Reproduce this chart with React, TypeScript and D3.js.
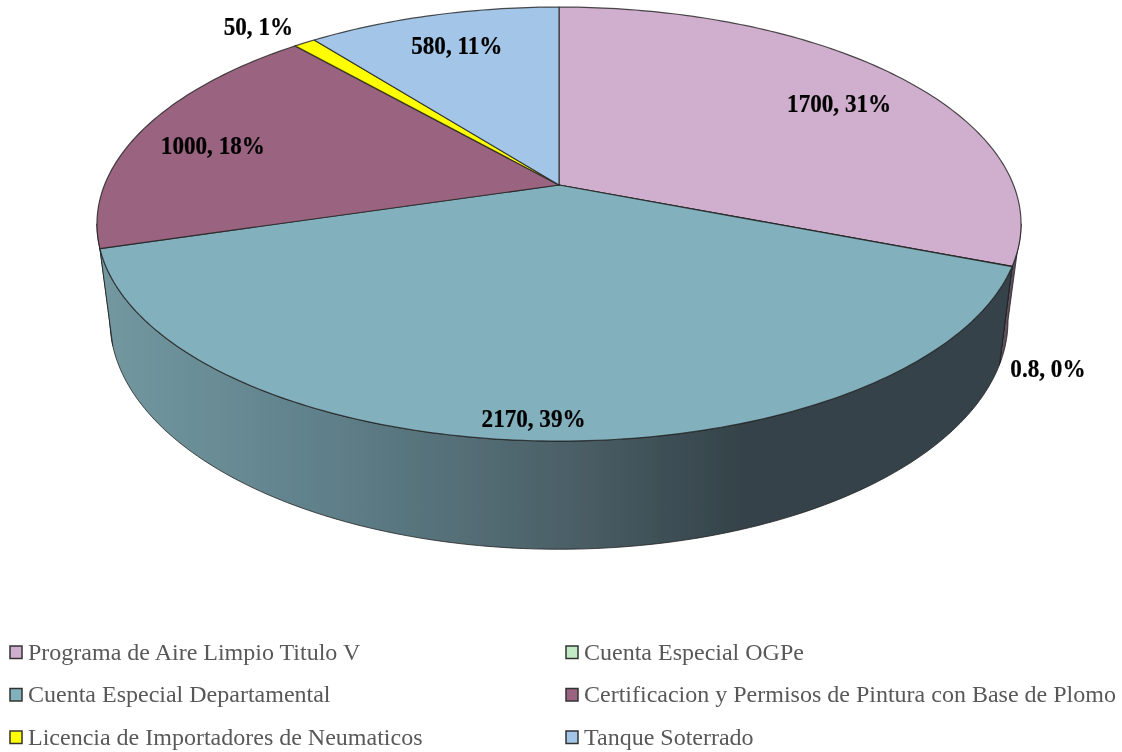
import { useLayoutEffect, useRef } from "react";
import * as d3 from "d3";

const categories = [
  "Programa de Aire Limpio Titulo V",
  "Cuenta Especial OGPe",
  "Cuenta Especial Departamental",
  "Certificacion y Permisos de Pintura con Base de Plomo",
  "Licencia de Importadores de Neumaticos",
  "Tanque Soterrado",
];
const values = [1700, 0.8, 2170, 1000, 50, 580];
const colors = ["#d0aecd", "#c2eac5", "#82b0bd", "#9a6480", "#ffff00", "#a3c6e8"];
const wallColors = ["#5f4f5e", "#4c5f50", "url(#wallTeal)", "#6f4a5e", "#8a8a20", "#5f7387"];

// label placement: radius as a fraction of the pie, then a small nudge
const labelRadius = [0.808, 1.0735, 0.926, 0.825, 1.1376, 0.801];
const labelNudgeX = [0, 0, -5, 0, -16, 2];
const labelNudgeY = [7, 96, 0, 7, 0, 0];

const width = 1122;
const height = 752;
const tilt = 0.18; // perspective of the pie plane

// the top and bottom faces of the cylinder, as seen in perspective
const topFace = { x: 559, y: 185, rx: 454.5, ry: 210 };
const bottomFace = { x: 559, y: 279, rx: 441.7, ry: 221.6 };

type Face = typeof topFace;

const project = (face: Face, angle: number, r = 1): [number, number] => {
  const u = r * Math.sin(angle);
  const v = r * Math.cos(angle);
  const w = 1 + tilt * v;
  return [face.x + (face.rx * u) / w, face.y - (face.ry * v) / w];
};

const arcPoints = (face: Face, a0: number, a1: number) => {
  const n = Math.max(2, Math.ceil(Math.abs(a1 - a0) * 60));
  return d3.range(n + 1).map((i) => project(face, a0 + ((a1 - a0) * i) / n));
};

const line = d3.line();

const App = () => {
  const svgRef = useRef<SVGSVGElement>(null);

  useLayoutEffect(() => {
    const svg = d3.select(svgRef.current);
    svg.selectAll("*").remove();

    const defs = svg.append("defs");
    const grad = defs
      .append("linearGradient")
      .attr("id", "wallTeal")
      .attr("gradientUnits", "userSpaceOnUse")
      .attr("x1", 110)
      .attr("x2", 1010)
      .attr("y1", 0)
      .attr("y2", 0);
    grad.append("stop").attr("offset", 0).attr("stop-color", "#72979f");
    grad.append("stop").attr("offset", 0.24).attr("stop-color", "#5f808a");
    grad.append("stop").attr("offset", 0.5).attr("stop-color", "#4c6168");
    grad.append("stop").attr("offset", 0.7).attr("stop-color", "#344349");
    grad.append("stop").attr("offset", 1).attr("stop-color", "#344349");

    // the reference is a slightly soft, resampled picture
    defs
      .append("filter")
      .attr("id", "soft")
      .append("feGaussianBlur")
      .attr("stdDeviation", 0.4);

    const slices = d3
      .pie<number>()
      .sort(null)
      .value((d) => d)(values);

    const pieGroup = svg.append("g").attr("filter", "url(#soft)");

    // visible part of the side wall, pink sliver first
    const front0 = Math.PI / 2 + 0.18;
    const front1 = (Math.PI * 3) / 2 - 0.18;
    const wall = pieGroup.append("g");
    [0, 3, 1, 2].forEach((i) => {
      const a0 = Math.max(slices[i].startAngle, front0);
      const a1 = Math.min(slices[i].endAngle, front1);
      if (a1 <= a0) return;
      const pts = [...arcPoints(topFace, a0, a1), ...arcPoints(bottomFace, a1, a0)];
      wall
        .append("path")
        .attr("d", line(pts) + "Z")
        .attr("fill", wallColors[i])
        .attr("stroke", "#222")
        .attr("stroke-opacity", 0.8)
        .attr("stroke-width", 1);
    });

    // top face
    pieGroup
      .append("g")
      .selectAll("path")
      .data(slices)
      .join("path")
      .attr("d", (d) => {
        const pts = [
          [topFace.x, topFace.y] as [number, number],
          ...arcPoints(topFace, d.startAngle, d.endAngle),
        ];
        return line(pts) + "Z";
      })
      .attr("fill", (_, i) => colors[i])
      .attr("stroke", "#222")
      .attr("stroke-opacity", 0.8)
      .attr("stroke-width", 1.2)
      .attr("stroke-linejoin", "round");

    const total = d3.sum(values);
    svg
      .append("g")
      .attr("filter", "url(#soft)")
      .attr("font-family", "'Liberation Serif', serif")
      .attr("font-size", 25)
      .attr("font-weight", "bold")
      .attr("fill", "#000")
      .attr("stroke", "#000")
      .attr("stroke-width", 0.25)
      .attr("text-anchor", "middle")
      .selectAll("text")
      .data(slices)
      .join("text")
      .attr("transform", (d, i) => {
        const [x, y] = project(topFace, (d.startAngle + d.endAngle) / 2, labelRadius[i]);
        return `translate(${x + labelNudgeX[i]},${y + labelNudgeY[i]}) scale(0.925,1)`;
      })
      .attr("dy", "0.34em")
      .text((d) => `${d.data}, ${Math.round((d.data / total) * 100)}%`);

    // legend, two columns
    const legendX = d3.scaleOrdinal<number, number>().domain([0, 1]).range([16, 572]);
    const legendY = d3.scalePoint<number>().domain([0, 1, 2]).range([652, 737]);
    const legend = svg
      .append("g")
      .attr("filter", "url(#soft)")
      .selectAll("g")
      .data(categories)
      .join("g")
      .attr("transform", (_, i) => `translate(${legendX(i % 2)},${legendY(Math.floor(i / 2))})`);
    legend
      .append("rect")
      .attr("x", -6)
      .attr("y", -6)
      .attr("width", 12)
      .attr("height", 12.5)
      .attr("fill", (_, i) => colors[i])
      .attr("stroke", "#333")
      .attr("stroke-width", 1.5);
    legend
      .append("text")
      .attr("x", 12)
      .attr("dy", "0.32em")
      .attr("font-family", "'Liberation Serif', serif")
      .attr("font-size", 24)
      .attr("fill", "#595959")
      .text((d) => d);
  }, []);

  return (
    <svg
      ref={svgRef}
      width={width}
      height={height}
      style={{ position: "absolute", left: 0, top: 0, display: "block" }}
    ></svg>
  );
};

export default App;
